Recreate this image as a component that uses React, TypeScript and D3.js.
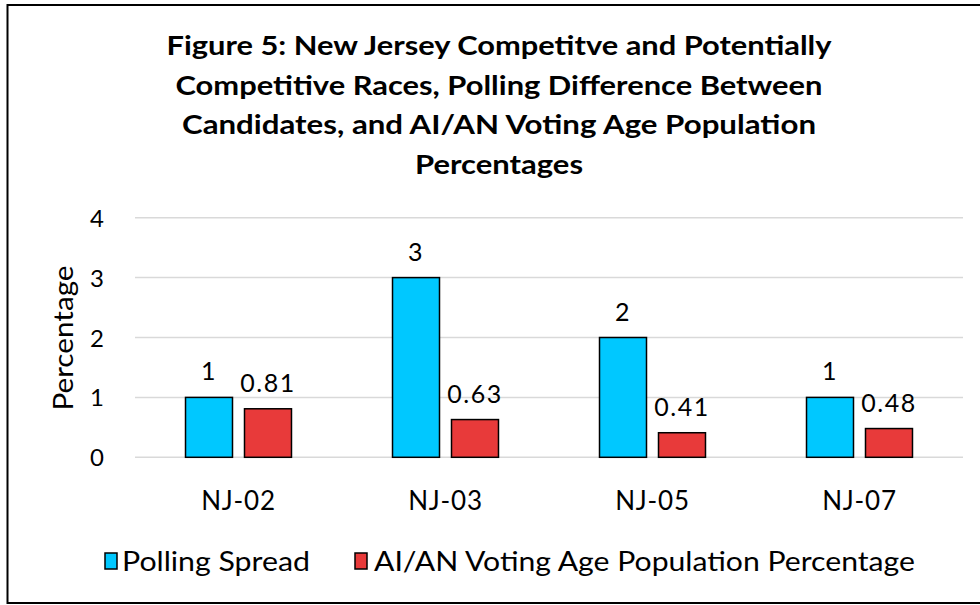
import React from "react";
import * as d3 from "d3";

const categories = ["NJ-02", "NJ-03", "NJ-05", "NJ-07"];
const seriesNames = ["Polling Spread", "AI/AN Voting Age Population Percentage"];
const pollingSpread = [1, 3, 2, 1];
const aianVapPct = [0.81, 0.63, 0.41, 0.48];
const yTicks = [0, 1, 2, 3, 4];
const titleLines = [
  "Figure 5: New Jersey Competitve and Potentially",
  "Competitive Races, Polling Difference Between",
  "Candidates, and AI/AN Voting Age Population",
  "Percentages",
];
const titleWidths = [665, 647, 634, 168];
const colors = ["#00C8FF", "#E83A3A"];

const FONT = "Lato, 'Open Sans', sans-serif";

export default function App() {
  const W = 980;
  const H = 605;
  const plot = { left: 135, right: 963, top: 217.7, bottom: 457.3 };

  const y = d3.scaleLinear().domain([0, 4]).range([plot.bottom, plot.top]);
  const x0 = d3
    .scaleBand<string>()
    .domain(categories)
    .range([plot.left, plot.right])
    .paddingInner(0.488)
    .paddingOuter(0.244);
  const x1 = d3
    .scaleBand<number>()
    .domain([0, 1])
    .range([0, x0.bandwidth()])
    .paddingInner(0.2034);

  const series = [pollingSpread, aianVapPct];

  return (
    <svg
      width={W}
      height={H}
      style={{ position: "absolute", left: 0, top: 0, background: "#fff" }}
      fontFamily={FONT}
    >
      <rect x={0} y={0} width={W} height={H} fill="#fff" />
      <rect x={7.5} y={5} width={1000} height={598} fill="none" stroke="#000" strokeWidth={2} />

      {titleLines.map((t, i) => (
        <text
          key={i}
          x={499}
          y={55 + i * 39.5}
          textAnchor="middle"
          fontWeight="bold"
          fontSize={27}
          textLength={titleWidths[i]}
          lengthAdjust="spacingAndGlyphs"
          fill="#000"
        >
          {t}
        </text>
      ))}

      {yTicks.map((t) => (
        <g key={t}>
          <line
            x1={plot.left}
            x2={plot.right}
            y1={y(t)}
            y2={y(t)}
            stroke="#D9D9D9"
            strokeWidth={1.5}
          />
          <text x={104} y={y(t) + 9} textAnchor="end" fontSize={24} fill="#000">
            {t}
          </text>
        </g>
      ))}

      <text
        transform={`translate(73,338) rotate(-90)`}
        textAnchor="middle"
        fontSize={27}
        textLength={145}
        lengthAdjust="spacingAndGlyphs"
        fill="#000"
      >
        Percentage
      </text>

      {categories.map((c, ci) => (
        <g key={c} transform={`translate(${x0(c)},0)`}>
          {series.map((vals, si) => {
            const v = vals[ci];
            const bx = x1(si)!;
            const bw = x1.bandwidth();
            return (
              <g key={si}>
                <rect
                  x={bx}
                  y={y(v)}
                  width={bw}
                  height={y(0) - y(v)}
                  fill={colors[si]}
                  stroke="#000"
                  strokeWidth={1.5}
                />
                <text
                  x={bx + bw / 2}
                  y={y(v) - 17}
                  textAnchor="middle"
                  fontSize={25}
                  letterSpacing={1.5}
                  fill="#000"
                >
                  {String(v)}
                </text>
              </g>
            );
          })}
          <text
            x={x0.bandwidth() / 2}
            y={510}
            textAnchor="middle"
            fontSize={26}
            letterSpacing={0.8}
            fill="#000"
          >
            {c}
          </text>
        </g>
      ))}

      {/* legend */}
      <g>
        <rect x={105} y={553} width={12} height={16} fill={colors[0]} stroke="#000" strokeWidth={1.5} />
        <text x={122} y={571} fontSize={27} textLength={188} lengthAdjust="spacingAndGlyphs" fill="#000">
          {seriesNames[0]}
        </text>
        <rect x={355} y={553} width={12} height={16} fill={colors[1]} stroke="#000" strokeWidth={1.5} />
        <text x={374} y={571} fontSize={27} textLength={541} lengthAdjust="spacingAndGlyphs" fill="#000">
          {seriesNames[1]}
        </text>
      </g>
    </svg>
  );
}
